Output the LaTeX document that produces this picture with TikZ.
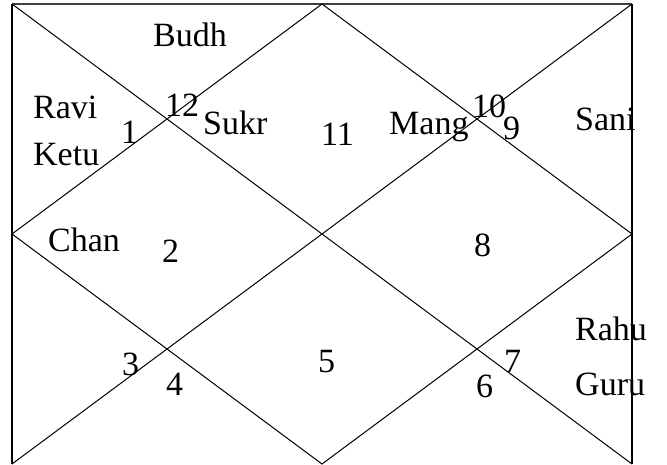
\documentclass[tikz,border=0pt]{standalone}
\usepackage{fontspec}
\setmainfont{Liberation Serif}
\begin{document}
\begin{tikzpicture}[x=1pt,y=-1pt,
  lbl/.style={anchor=base west,inner sep=0pt,font=\fontsize{34}{40}\selectfont},
  ln/.style={draw=black,line width=1pt},
  border/.style={draw=black,line width=1.4pt},
  topborder/.style={draw=black!75,line width=2pt}]
\useasboundingbox (0,0) rectangle (667,465);
% corners and mid points
\coordinate (TL) at (12,4);
\coordinate (TR) at (632,4);
\coordinate (BL) at (12,464);
\coordinate (BR) at (632,464);
\coordinate (TM) at (322,4);
\coordinate (BM) at (322,464);
\coordinate (LM) at (12,234);
\coordinate (RM) at (632,234);
% frame
\draw[topborder] (TL) -- (TR);
\draw[border] (TL) -- (BL);
\draw[border] (TR) -- (BR);
% diagonals
\draw[ln] (TL) -- (BR);
\draw[ln] (TR) -- (BL);
% diamond
\draw[ln] (TM) -- (RM) -- (BM) -- (LM) -- cycle;
% planets
\node[lbl] (budh) at (153,47) {Budh};
\node[lbl] (ravi) at (33,119) {Ravi};
\node[lbl] (ketu) at (33,166) {Ketu};
\node[lbl] (sukr) at (203,135) {Sukr};
\node[lbl] (mang) at (389,135) {Mang};
\node[lbl] (sani) at (575,131) {Sani};
\node[lbl] (chan) at (48,252) {Chan};
\node[lbl] (rahu) at (575,340) {Rahu};
\node[lbl] (guru) at (575,395) {Guru};
% house numbers
\node[lbl] (h1) at (121,144) {1};
\node[lbl] (h12) at (165,117) {12};
\node[lbl] (h11) at (321,146) {11};
\node[lbl] (h10) at (472,118) {10};
\node[lbl] (h9) at (503,140) {9};
\node[lbl] (h2) at (162,262) {2};
\node[lbl] (h8) at (474,257) {8};
\node[lbl] (h3) at (122,375) {3};
\node[lbl] (h4) at (166,395) {4};
\node[lbl] (h5) at (318,372) {5};
\node[lbl] (h6) at (476,397) {6};
\node[lbl] (h7) at (504,372) {7};
\end{tikzpicture}
\end{document}
